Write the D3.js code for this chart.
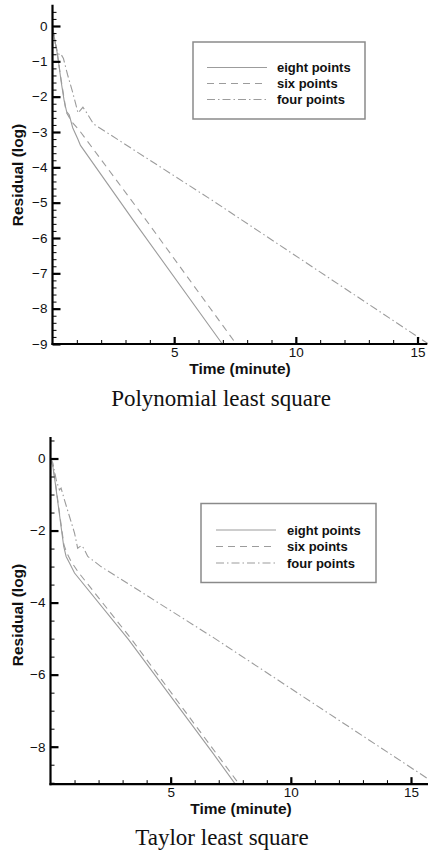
<!DOCTYPE html>
<html>
<head>
<meta charset="utf-8">
<script src="https://cdn.jsdelivr.net/npm/d3@7"></script>
<style>
  html, body { margin: 0; padding: 0; background: #fff; }
  svg { display: block; }
  text { font-family: "Liberation Sans", Arial, sans-serif; fill: #111; }
  .caption { font-family: "Liberation Serif", "Times New Roman", serif; }
</style>
</head>
<body>
<script>
// Residual history (log10) against wall time in minutes, per stencil size.
const seriesNames = ["eight points", "six points", "four points"];

// Polynomial least square
const polyEight = [[0.02,-0.1],[0.07,-0.3],[0.12,-0.5],[0.21,-0.82],[0.35,-1.55],[0.48,-2.12],[0.58,-2.42],[0.69,-2.52],[0.83,-2.88],[1.04,-3.2],[1.15,-3.38],[3.3,-5.48],[6.98,-9]];
const polySix   = [[0.02,-0.1],[0.08,-0.35],[0.2,-0.8],[0.35,-1.5],[0.5,-2.15],[0.55,-2.42],[0.8,-2.72],[1.1,-2.95],[3.8,-5.45],[7.55,-9]];
const polyFour  = [[0.02,-0.05],[0.1,-0.45],[0.2,-0.72],[0.28,-0.82],[0.35,-0.8],[0.45,-0.92],[0.62,-1.38],[0.83,-1.88],[1.05,-2.46],[1.15,-2.38],[1.25,-2.3],[1.43,-2.48],[1.68,-2.77],[6.6,-4.95],[15.45,-9]];

// Taylor least square
const taylorEight = [[0.02,-0.05],[0.1,-0.23],[0.2,-0.69],[0.33,-1.34],[0.44,-1.89],[0.55,-2.44],[0.65,-2.72],[0.79,-2.9],[1.0,-3.18],[3.25,-5.03],[6.78,-8.2],[7.69,-9.04]];
const taylorSix   = [[0.02,-0.05],[0.1,-0.2],[0.2,-0.65],[0.33,-1.3],[0.45,-1.88],[0.56,-2.4],[0.68,-2.62],[0.85,-2.85],[1.15,-3.15],[3.35,-5.0],[7.85,-9.04]];
const taylorFour  = [[0.02,0],[0.1,-0.13],[0.24,-0.6],[0.37,-0.87],[0.44,-0.82],[0.58,-1.15],[0.79,-1.61],[1.0,-2.07],[1.13,-2.49],[1.28,-2.42],[1.38,-2.49],[1.55,-2.72],[1.83,-2.86],[2.1,-3.0],[6.8,-4.98],[15.68,-8.88],[16.0,-9.04]];

// Axis ticks
const xMajorTicks = [5, 10, 15];
const xMinorTicks = d3.range(1, 16);
const polyYMajor = d3.range(0, -10, -1);
const polyYMinor = d3.range(0.4, -9.01, -0.2).map(v => +v.toFixed(1));
const taylorYMajor = [0, -2, -4, -6, -8];
const taylorYMinor = d3.range(0.5, -9.01, -0.5);

const xLabel = "Time (minute)";
const yLabel = "Residual (log)";

const dashes = ["none", "7,5", "8,3,1.5,3"];
const lineColor = "#9c9c9c";

const svg = d3.select("body").append("svg")
  .attr("width", 428).attr("height", 852);

function drawPanel(cfg) {
  const g = svg.append("g");
  const x = d3.scaleLinear().domain([0, 15]).range(cfg.xRange);
  const y = d3.scaleLinear().domain(cfg.yDomain).range(cfg.yRange);

  // curves
  const line = d3.line().x(d => x(d[0])).y(d => y(d[1]));
  cfg.series.forEach((s, i) => {
    g.append("path").datum(s)
      .attr("d", line)
      .attr("fill", "none")
      .attr("stroke", lineColor)
      .attr("stroke-width", 1.1)
      .attr("stroke-dasharray", dashes[i]);
  });

  // y axis: minor ticks then major ticks with labels
  const yMinorAxis = d3.axisLeft(y).tickValues(cfg.yMinor).tickSizeInner(-4).tickSizeOuter(0).tickFormat("");
  const yMajorAxis = d3.axisLeft(y).tickValues(cfg.yMajor).tickSizeInner(-8).tickSizeOuter(0).tickPadding(5)
    .tickFormat(d => d === 0 ? "0" : d3.format("d")(d));
  const ya = g.append("g").attr("transform", `translate(${x(0)},0)`);
  ya.append("g").attr("class", "minor").call(yMinorAxis);
  ya.append("g").attr("class", "major").call(yMajorAxis);

  const xMinorAxis = d3.axisBottom(x).tickValues(xMinorTicks).tickSizeInner(-4).tickSizeOuter(0).tickFormat("");
  const xMajorAxis = d3.axisBottom(x).tickValues(xMajorTicks).tickSizeInner(-7).tickSizeOuter(0).tickPadding(3);
  const xa = g.append("g").attr("transform", `translate(0,${y(cfg.yBottom)})`);
  xa.append("g").attr("class", "minor").call(xMinorAxis);
  xa.append("g").attr("class", "major").call(xMajorAxis);

  // axis lines span the full frame
  g.selectAll(".domain").remove();
  g.append("line")
    .attr("x1", x(0)).attr("x2", x(0))
    .attr("y1", y(cfg.yTop)).attr("y2", y(cfg.yBottom) + 1)
    .attr("stroke", "#000").attr("stroke-width", 2.2);
  g.append("line")
    .attr("x1", x(0) - 1).attr("x2", x(cfg.xEnd))
    .attr("y1", y(cfg.yBottom)).attr("y2", y(cfg.yBottom))
    .attr("stroke", "#000").attr("stroke-width", 2.2);

  g.selectAll(".tick line").attr("stroke", "#000");
  g.selectAll(".major .tick line").attr("stroke-width", 2.2);
  g.selectAll(".minor .tick line").attr("stroke-width", 1);
  g.selectAll(".tick text")
    .attr("font-family", "'Liberation Sans', Arial, sans-serif")
    .attr("font-size", 13.5).attr("fill", "#222");

  // axis titles
  g.append("text")
    .attr("x", cfg.xTitle[0]).attr("y", cfg.xTitle[1])
    .attr("text-anchor", "middle")
    .attr("font-size", 15.5).attr("font-weight", "bold")
    .text(xLabel);
  g.append("text")
    .attr("transform", `translate(${cfg.yTitle[0]},${cfg.yTitle[1]}) rotate(-90)`)
    .attr("text-anchor", "middle")
    .attr("font-size", 15.5).attr("font-weight", "bold")
    .text(yLabel);

  // legend
  const L = cfg.legend;
  g.append("rect")
    .attr("x", L.x).attr("y", L.y).attr("width", L.w).attr("height", L.h)
    .attr("fill", "#fff").attr("stroke", "#8a8a8a").attr("stroke-width", 1.5);
  seriesNames.forEach((name, i) => {
    const ry = L.rowY + i * L.rowGap;
    g.append("line")
      .attr("x1", L.lineX0).attr("x2", L.lineX1)
      .attr("y1", ry).attr("y2", ry)
      .attr("stroke", lineColor).attr("stroke-width", 1.1)
      .attr("stroke-dasharray", dashes[i]);
    g.append("text")
      .attr("x", L.textX).attr("y", ry)
      .attr("dy", "0.35em")
      .attr("font-size", 13).attr("font-weight", "bold")
      .text(name);
  });

  // caption
  g.append("text").attr("class", "caption")
    .attr("x", cfg.caption[0]).attr("y", cfg.caption[1])
    .attr("text-anchor", "middle")
    .attr("font-size", 23)
    .text(cfg.captionText);
}

drawPanel({
  series: [polyEight, polySix, polyFour],
  xRange: [52.5, 417.5],
  xEnd: 15.4,
  yDomain: [0, -9],
  yRange: [26, 344],
  yTop: 0.6,
  yBottom: -9,
  yMajor: polyYMajor,
  yMinor: polyYMinor,
  xTitle: [240, 374],
  yTitle: [23, 175],
  legend: { x: 193, y: 42, w: 172, h: 77, rowY: 67.5, rowGap: 16, lineX0: 207, lineX1: 267, textX: 277 },
  caption: [221, 406],
  captionText: "Polynomial least square"
});

drawPanel({
  series: [taylorEight, taylorSix, taylorFour],
  xRange: [50.5, 411],
  xEnd: 15.75,
  yDomain: [0, -8],
  yRange: [458.5, 746.7],
  yTop: 0.6,
  yBottom: -9.04,
  yMajor: taylorYMajor,
  yMinor: taylorYMinor,
  xTitle: [241, 814],
  yTitle: [23, 615],
  legend: { x: 201, y: 503.5, w: 175, h: 79, rowY: 530, rowGap: 16.5, lineX0: 216, lineX1: 276, textX: 287 },
  caption: [222, 845],
  captionText: "Taylor least square"
});
</script>
</body>
</html>
